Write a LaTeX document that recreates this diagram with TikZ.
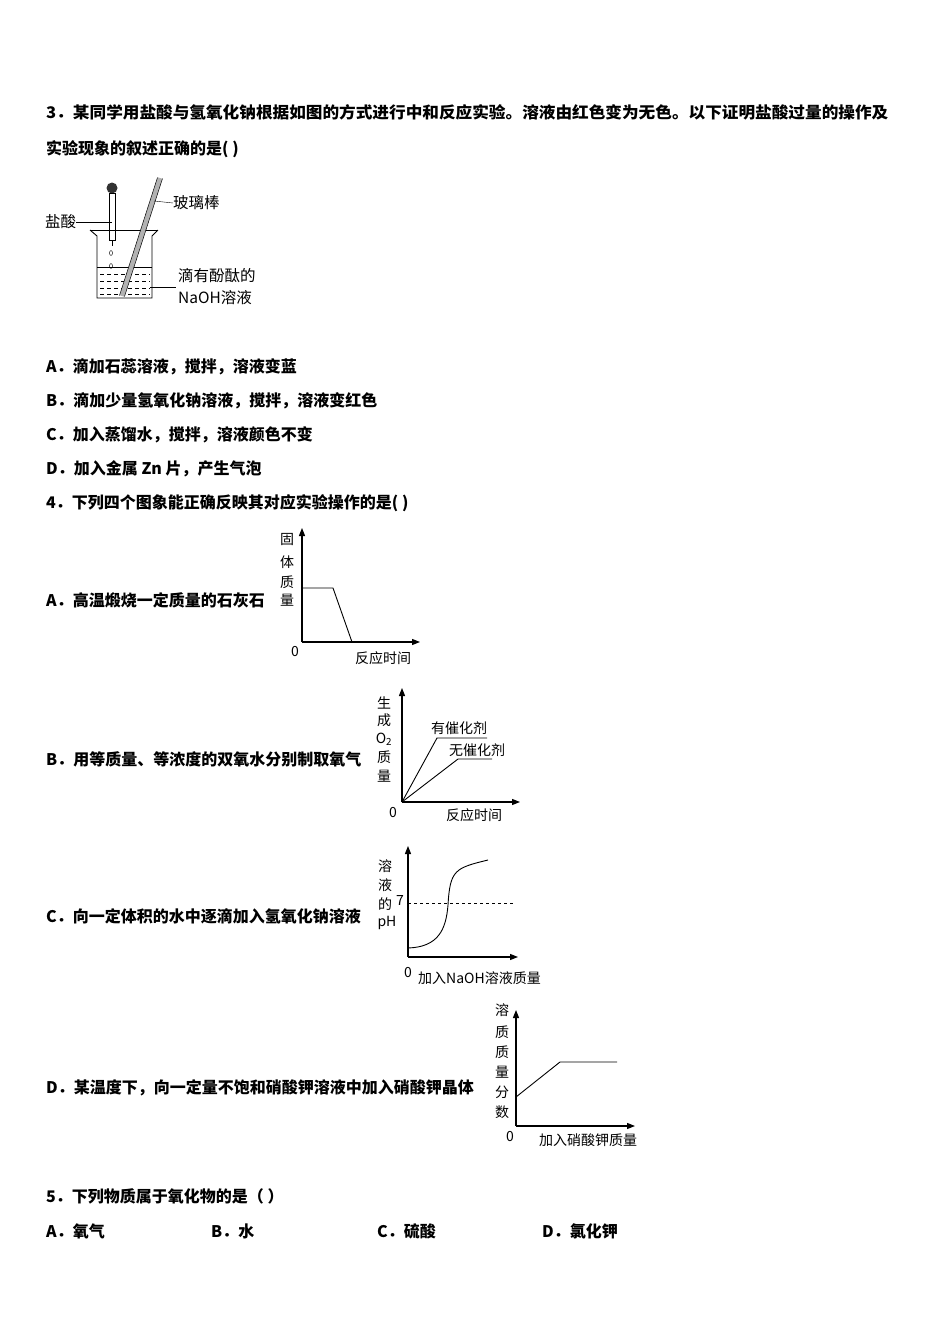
\documentclass[tikz,border=0pt]{standalone}
\usepackage{fontspec}
\setmainfont{Liberation Serif}
\newfontfamily\cjk{Noto Sans CJK SC}
\usetikzlibrary{arrows.meta}
\begin{document}
\begin{tikzpicture}[x=1pt,y=-1pt,
  q/.style={anchor=west,inner sep=0,font=\cjk\bfseries\fontsize{16}{17}\selectfont},
  lab/.style={inner sep=0,font=\cjk\fontsize{14}{15}\selectfont},
  blab/.style={inner sep=0,font=\cjk\fontsize{15.5}{16}\selectfont},
  ax/.style={line width=1.2pt,-{Triangle[length=8pt,width=6pt]}},
  cv/.style={line width=0.9pt}]
\useasboundingbox[fill=white] (0,0) rectangle (950,1344);
\node[q] (q3a) at (46,112) {\scalebox{1.04}[1]{3．某同学用盐酸与氢氧化钠根据如图的方式进行中和反应实验。溶液由红色变为无色。以下证明盐酸过量的操作及}};
\node[q] (q3b) at (46,149) {实验现象的叙述正确的是( )};
% beaker
\draw[line width=0.9pt] (90,230) -- (97,236) -- (97,298) -- (152,298) -- (152,236) -- (158,230);
\draw[line width=0.9pt] (90,230) -- (158,230);
\draw (97,267) -- (152,267);
\foreach \y in {274,281,288,294}{\draw[dash pattern=on 4pt off 3pt] (100,\y) -- (150,\y);}
\fill[gray!40!black] (112,188) circle (5.5);
\draw[line width=0.8pt] (109,193) rectangle (115,240);
\draw[line width=0.8pt] (112,240) -- (112,246);
\draw (111,253) ellipse (1.5 and 2.5);
\draw (111,266) ellipse (1.5 and 2.5);
\draw[line width=5pt,gray!60] (160,178) -- (122,296);
\draw[line width=0.5pt] (157.5,177.5) -- (119.5,295.5) (162.5,178.5) -- (124.5,296.5);
\node[blab,anchor=west] (rod) at (173,203) {玻璃棒};
\node[blab,anchor=west] (hcl) at (45,222) {盐酸};
\node[blab,anchor=west] (sol) at (178,276) {滴有酚酞的};
\node[blab,anchor=west] (sol2) at (178,298) {NaOH溶液};
\draw (154,201) -- (rod.west);
\draw (hcl.east) -- (112,222);
\draw (150,287) -- (176,287);
% options Q3
\node[q] (a3) at (46,367) {A．滴加石蕊溶液，搅拌，溶液变蓝};
\node[q] (b3) at (46,401) {B．滴加少量氢氧化钠溶液，搅拌，溶液变红色};
\node[q] (c3) at (46,435) {C．加入蒸馏水，搅拌，溶液颜色不变};
\node[q] (d3) at (46,469) {D．加入金属 Zn 片，产生气泡};
\node[q] (q4) at (46,503) {4．下列四个图象能正确反映其对应实验操作的是( )};
% Graph A
\node[q] (a4) at (46,600) {A．高温煅烧一定质量的石灰石};
\coordinate (oA) at (302,642);
\draw[ax] (oA) -- (302,528);
\draw[ax] (oA) -- (420,642);
\draw[cv] (302,588) -- (333,588) -- (352,642);
\foreach \t/\y in {固/540,体/562,质/582,量/600}{\node[lab] at (287,\y) {\t};}
\node[lab] at (295,651) {0};
\node[lab] (ta) at (383,658) {反应时间};
% Graph B
\node[q] (b4) at (46,759) {B．用等质量、等浓度的双氧水分别制取氧气};
\coordinate (oB) at (402,802);
\draw[ax] (oB) -- (402,688);
\draw[ax] (oB) -- (520,802);
\draw[cv] (oB) -- (437,738) -- (487,738);
\draw[cv] (oB) -- (458,759) -- (492,759);
\node[lab] at (459,728) {有催化剂};
\node[lab] at (477,750) {无催化剂};
\foreach \t/\y in {生/703,成/720,O\textsubscript{2}/739,质/757,量/776}{\node[lab] at (384,\y) {\t};}
\node[lab] at (393,812) {0};
\node[lab] at (474,815) {反应时间};
% Graph C
\node[q] (c4) at (46,916) {C．向一定体积的水中逐滴加入氢氧化钠溶液};
\coordinate (oC) at (408,957);
\draw[ax] (oC) -- (408,846);
\draw[ax] (oC) -- (518,957);
\draw[dashed] (408,903) -- (515,903);
\node[lab] at (400,900) {7};
\draw[cv] (408,948) .. controls (438,947) and (446,930) .. (448,905) .. controls (450,870) and (455,868) .. (488,860);
\foreach \t/\y in {溶/866,液/885,的/904}{\node[lab] at (385,\y) {\t};}
\node[lab] at (387,923) {pH};
\node[lab] at (408,972) {0};
\node[lab,anchor=west] (xc) at (418,978) {加入NaOH溶液质量};
% Graph D
\node[q] (d4) at (46,1088) {D．某温度下，向一定量不饱和硝酸钾溶液中加入硝酸钾晶体};
\coordinate (oD) at (516,1126);
\draw[ax] (oD) -- (516,1010);
\draw[ax] (oD) -- (635,1126);
\draw[cv] (516,1097) -- (560,1062) -- (617,1062);
\foreach \t/\y in {溶/1010,质/1032,质/1052,量/1072,分/1092,数/1112}{\node[lab] at (502,\y) {\t};}
\node[lab] at (510,1136) {0};
\node[lab] at (588,1140) {加入硝酸钾质量};
% Q5
\node[q] (q5) at (46,1196) {5．下列物质属于氧化物的是（ ）};
\node[q] (a5) at (46,1231) {A．氧气};
\node[q] (b5) at (211,1231) {B．水};
\node[q] (c5) at (377,1231) {C．硫酸};
\node[q] (d5) at (542,1231) {D．氯化钾};
\end{tikzpicture}
\end{document}
